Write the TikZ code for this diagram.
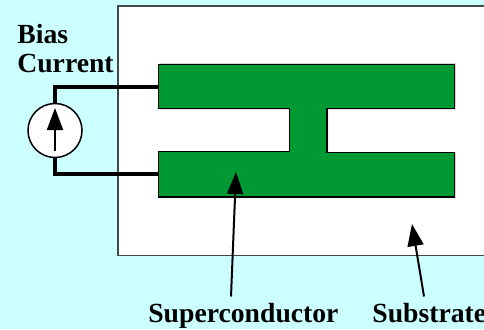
\documentclass[tikz,border=0pt]{standalone}
\usepackage{fontspec}
\usepackage{xcolor}
\usetikzlibrary{arrows.meta}
\setmainfont{Liberation Serif}
\definecolor{paleblue}{HTML}{CCFFFF}
\definecolor{filmgreen}{HTML}{009933}
\definecolor{edgegrey}{HTML}{404848}
\tikzset{
  caption/.style={font=\fontsize{15.75}{16.7}\selectfont\bfseries,inner sep=0pt},
  wire/.style={line width=0.08cm},
  pointer/.style={line width=0.04cm,-{Triangle[length=0.44cm,width=0.32cm]}}
}

\begin{document}
\begin{tikzpicture}
\useasboundingbox (0,0) rectangle (9.68,6.58);
\fill[paleblue] (0,0) rectangle (9.68,6.58);
\fill[white] (2.36,1.47) rectangle (9.68,6.46);
\draw[edgegrey,line width=0.03cm] (9.68,6.46)--(2.36,6.46)--(2.36,1.47)--(9.68,1.47);
\fill[black!25] (3.19,5.31)--(9.11,5.31)--(9.11,4.39)--(6.56,4.39)--(6.56,3.53)--(9.11,3.53)--(9.11,2.62)--(3.19,2.62)--(3.19,3.53)--(5.81,3.53)--(5.81,4.39)--(3.19,4.39)--cycle;
\draw[fill=filmgreen,line width=0.025cm] (3.17,5.29)--(9.09,5.29)--(9.09,4.41)--(6.54,4.41)--(6.54,3.53)--(9.09,3.53)--(9.09,2.64)--(3.17,2.64)--(3.17,3.55)--(5.79,3.55)--(5.79,4.41)--(3.17,4.41)--cycle;
\coordinate (topfeed) at (3.17,4.84);
\coordinate (botfeed) at (3.17,3.10);
\node[circle,draw,fill=white,line width=0.03cm,minimum size=1.08cm,inner sep=0pt] (source) at (1.10,3.97) {};
\draw[wire] (source.north)--(1.10,4.84)--(topfeed);
\draw[wire] (source.south)--(1.10,3.10)--(botfeed);
\coordinate (sourcetail) at (1.10,3.56);
\coordinate (sourcetip) at (1.10,4.42);
\draw[pointer] (sourcetail)--(sourcetip);
\node[caption,align=left,anchor=north west] (biaslabel) at (0.34,6.11) {Bias\\Current};
\node[caption,anchor=base west] (superlabel) at (2.96,0.14) {Superconductor};
\node[caption,anchor=base west] (sublabel) at (7.44,0.14) {Substrate};
\coordinate (supertail) at (4.62,0.65);
\coordinate (supertip) at (4.72,3.14);
\coordinate (subtail) at (8.48,0.65);
\coordinate (subtip) at (8.24,2.10);
\draw[pointer] (supertail)--(supertip);
\draw[pointer] (subtail)--(subtip);
\end{tikzpicture}
\end{document}
